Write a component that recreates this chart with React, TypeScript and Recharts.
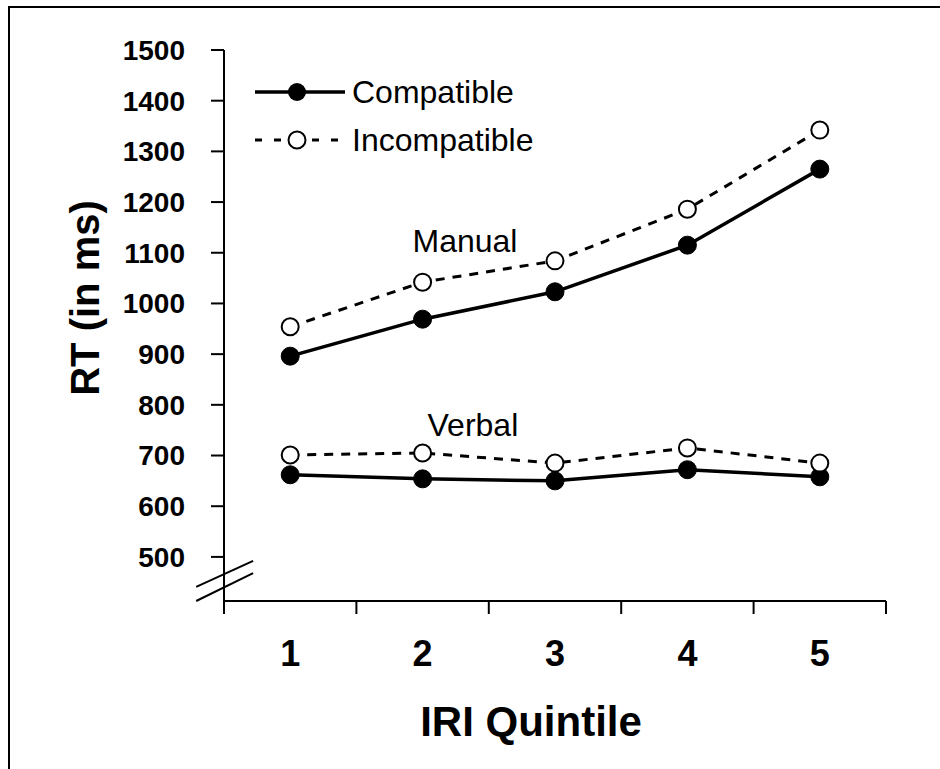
import React from 'react';
import { LineChart, Line, XAxis, YAxis, ReferenceDot, ReferenceLine, Legend } from 'recharts';

// IRI quintile categories
const QUINTILES = [1, 2, 3, 4, 5];

// RT in ms
const MANUAL_COMPATIBLE = [896, 969, 1023, 1115, 1265];
const MANUAL_INCOMPATIBLE = [954, 1042, 1084, 1186, 1342];
const VERBAL_COMPATIBLE = [662, 654, 650, 672, 658];
const VERBAL_INCOMPATIBLE = [701, 705, 685, 715, 685];

const Y_TICKS = [500, 600, 700, 800, 900, 1000, 1100, 1200, 1300, 1400, 1500];

const FONT = "'Liberation Sans', Arial, Helvetica, sans-serif";

const data = QUINTILES.map((q, i) => ({
  q,
  manualComp: MANUAL_COMPATIBLE[i],
  manualIncomp: MANUAL_INCOMPATIBLE[i],
  verbalComp: VERBAL_COMPATIBLE[i],
  verbalIncomp: VERBAL_INCOMPATIBLE[i],
}));

// tick marks sit between the categories, labels on the categories
const xTicks = [0.5, ...QUINTILES.flatMap(q => [q, q + 0.5])];

const filledDot = { r: 9, fill: '#000', stroke: '#000', strokeWidth: 1, strokeDasharray: '0' };
const openDot = { r: 8.5, fill: '#fff', stroke: '#000', strokeWidth: 2, strokeDasharray: '0' };

const XTick = (props: any) => {
  const { x, y, payload } = props;
  if (Number.isInteger(payload.value)) {
    return (
      <text x={x} y={y + 65} textAnchor="middle" fontSize={36} fontWeight="bold" fontFamily={FONT} fill="#000">
        {payload.value}
      </text>
    );
  }
  return <line x1={x} x2={x} y1={y} y2={y + 13} stroke="#000" strokeWidth={2} />;
};

const renderLegend = (props: any) => {
  const items = (props.payload || []).filter((p: any) => p.type !== 'none');
  return (
    <svg width={320} height={100}>
      {items.map((item: any, i: number) => {
        const cy = 22 + i * 48;
        const dashed = i === 1;
        return (
          <g key={item.value}>
            <line
              x1={5}
              x2={95}
              y1={cy}
              y2={cy}
              stroke="#000"
              strokeWidth={dashed ? 3 : 3.5}
              strokeDasharray={dashed ? '7 12' : undefined}
            />
            {dashed ? (
              <circle cx={47} cy={cy} r={8.5} fill="#fff" stroke="#000" strokeWidth={2} />
            ) : (
              <circle cx={47} cy={cy} r={9} fill="#000" />
            )}
            <text x={102} y={cy} dy="0.35em" fontSize={32} fontFamily={FONT} fill="#000">
              {item.value}
            </text>
          </g>
        );
      })}
    </svg>
  );
};

const YLabel = ({ viewBox }: any) => {
  const cx = viewBox.x + 85;
  const cy = viewBox.y + 248;
  return (
    <text
      x={cx}
      y={cy}
      transform={`rotate(-90, ${cx}, ${cy})`}
      textAnchor="middle"
      dy="0.35em"
      fontSize={40}
      fontWeight="bold"
      fontFamily={FONT}
      fill="#000"
    >
      RT (in ms)
    </text>
  );
};

const XLabel = ({ viewBox }: any) => (
  <text
    x={viewBox.x + viewBox.width / 2 - 24}
    y={viewBox.y + 135}
    textAnchor="middle"
    fontSize={42}
    fontWeight="bold"
    fontFamily={FONT}
    fill="#000"
  >
    IRI Quintile
  </text>
);

const App = () => (
  <div style={{ position: 'absolute', left: 0, top: 0, width: 940, height: 769, overflow: 'hidden', background: '#fff' }}>
    <div
      style={{
        position: 'absolute',
        left: 8,
        top: 6,
        width: 1000,
        height: 1000,
        borderLeft: '2px solid #000',
        borderTop: '2px solid #000',
      }}
    />
    <LineChart width={940} height={769} data={data} margin={{ top: 50, right: 54, bottom: 0, left: 0 }}>
      <XAxis
        dataKey="q"
        type="number"
        domain={[0.5, 5.5]}
        ticks={xTicks}
        interval={0}
        tickSize={0}
        tickMargin={0}
        tick={<XTick />}
        axisLine={{ stroke: '#000', strokeWidth: 2 }}
        height={168}
        label={<XLabel />}
      />
      <YAxis
        type="number"
        domain={[413, 1500]}
        ticks={Y_TICKS}
        interval={0}
        width={224}
        tickSize={13}
        tickMargin={26}
        tickLine={{ stroke: '#000', strokeWidth: 2 }}
        axisLine={{ stroke: '#000', strokeWidth: 2 }}
        tick={{ fontSize: 28, fontWeight: 'bold', fontFamily: FONT, fill: '#000' }}
        label={<YLabel />}
      />
      <Legend
        layout="vertical"
        align="center"
        verticalAlign="middle"
        content={renderLegend}
        wrapperStyle={{ left: 250, top: 70, width: 320, height: 100 }}
      />
      {/* axis break marks */}
      <ReferenceLine segment={[{ x: 0.29, y: 441 }, { x: 0.72, y: 492 }]} stroke="#000" strokeWidth={2} ifOverflow="visible" />
      <ReferenceLine segment={[{ x: 0.29, y: 413 }, { x: 0.72, y: 468 }]} stroke="#000" strokeWidth={2} ifOverflow="visible" />
      <ReferenceDot
        x={2.32}
        y={1123}
        r={0}
        fill="none"
        stroke="none"
        ifOverflow="visible"
        label={{ value: 'Manual', position: 'center', fontSize: 32, fontFamily: FONT, fill: '#000' }}
      />
      <ReferenceDot
        x={2.38}
        y={760}
        r={0}
        fill="none"
        stroke="none"
        ifOverflow="visible"
        label={{ value: 'Verbal', position: 'center', fontSize: 32, fontFamily: FONT, fill: '#000' }}
      />
      <Line
        name="Compatible"
        dataKey="manualComp"
        type="linear"
        stroke="#000"
        strokeWidth={3.5}
        dot={filledDot}
        activeDot={false}
        isAnimationActive={false}
      />
      <Line
        name="Incompatible"
        dataKey="manualIncomp"
        type="linear"
        stroke="#000"
        strokeWidth={3}
        strokeDasharray="9 8"
        dot={openDot}
        activeDot={false}
        isAnimationActive={false}
      />
      <Line
        name="Verbal compatible"
        dataKey="verbalComp"
        type="linear"
        stroke="#000"
        strokeWidth={3.5}
        dot={filledDot}
        activeDot={false}
        legendType="none"
        isAnimationActive={false}
      />
      <Line
        name="Verbal incompatible"
        dataKey="verbalIncomp"
        type="linear"
        stroke="#000"
        strokeWidth={3}
        strokeDasharray="9 8"
        dot={openDot}
        activeDot={false}
        legendType="none"
        isAnimationActive={false}
      />
    </LineChart>
  </div>
);

export default App;
